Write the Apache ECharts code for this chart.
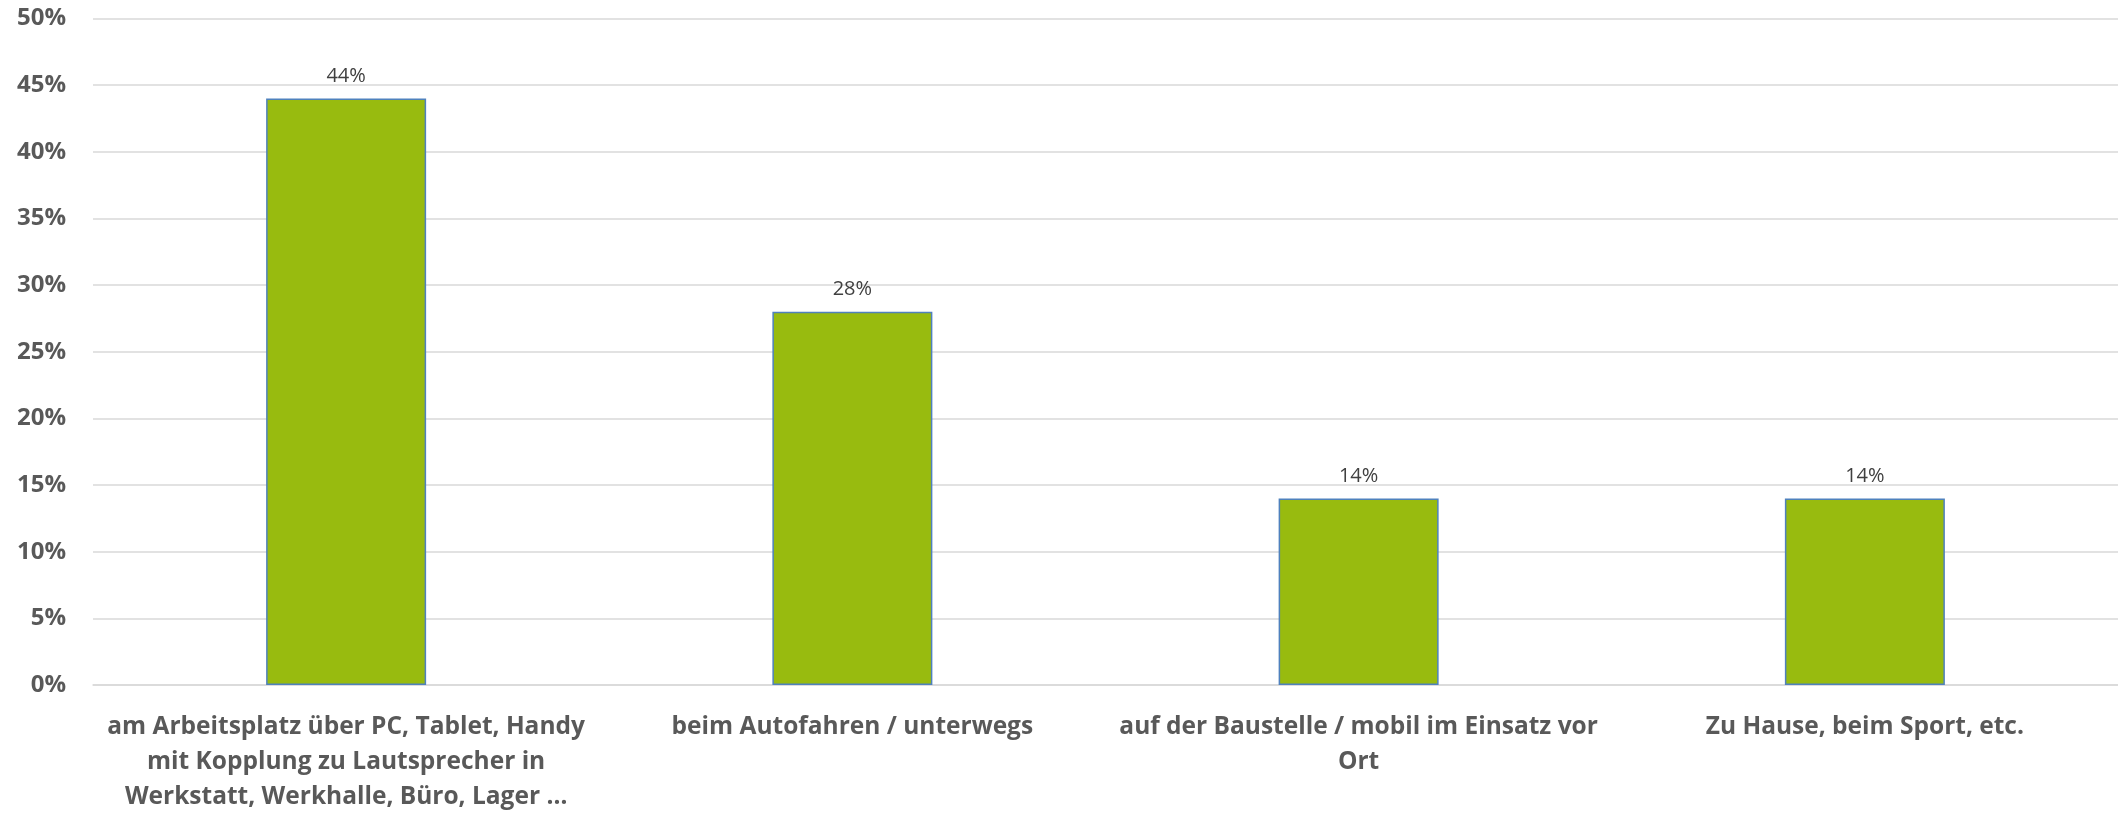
<!DOCTYPE html>
<html>
<head>
<meta charset="utf-8">
<script src="https://cdn.jsdelivr.net/npm/echarts@6/dist/echarts.min.js"></script>
<style>
html,body{margin:0;padding:0;background:#fff;}
#chart{width:2118px;height:815px;}
</style>
</head>
<body>
<div id="chart"></div>
<script>
const categories = [
  'am Arbeitsplatz über PC, Tablet, Handy\nmit Kopplung zu Lautsprecher in\nWerkstatt, Werkhalle, Büro, Lager …',
  'beim Autofahren / unterwegs',
  'auf der Baustelle / mobil im Einsatz vor\nOrt',
  'Zu Hause, beim Sport, etc.'
];
const values = [44, 28, 14, 14];
const yTicks = { min: 0, max: 50, interval: 5 };

const chart = echarts.init(document.getElementById('chart'));
chart.setOption({
  animation: false,
  backgroundColor: '#ffffff',
  grid: { left: 93, right: -7, top: 18.5, bottom: 125, containLabel: false },
  xAxis: {
    type: 'category',
    data: categories,
    axisTick: { show: false },
    axisLine: { show: true, lineStyle: { color: '#D9D9D9', width: 1.5 } },
    axisLabel: {
      interval: 0,
      color: '#595959',
      fontFamily: 'Open Sans',
      fontWeight: 'bold',
      fontSize: 24.5,
      lineHeight: 35,
      margin: 25
    }
  },
  yAxis: {
    type: 'value',
    min: yTicks.min,
    max: yTicks.max,
    interval: yTicks.interval,
    axisLine: { show: false },
    axisTick: { show: false },
    splitLine: { lineStyle: { color: '#D9D9D9', width: 1.5 } },
    axisLabel: {
      formatter: '{value}%',
      color: '#595959',
      fontFamily: 'Open Sans',
      fontWeight: 'bold',
      fontSize: 24,
      margin: 27
    }
  },
  series: [{
    type: 'bar',
    data: values,
    barWidth: 160,
    itemStyle: { color: '#98BB0F', borderColor: '#4F81BD', borderWidth: 1.5 },
    label: {
      show: true,
      position: 'top',
      distance: 12,
      formatter: '{c}%',
      color: '#404040',
      fontFamily: 'Open Sans',
      fontSize: 20
    }
  }]
});
</script>
</body>
</html>
